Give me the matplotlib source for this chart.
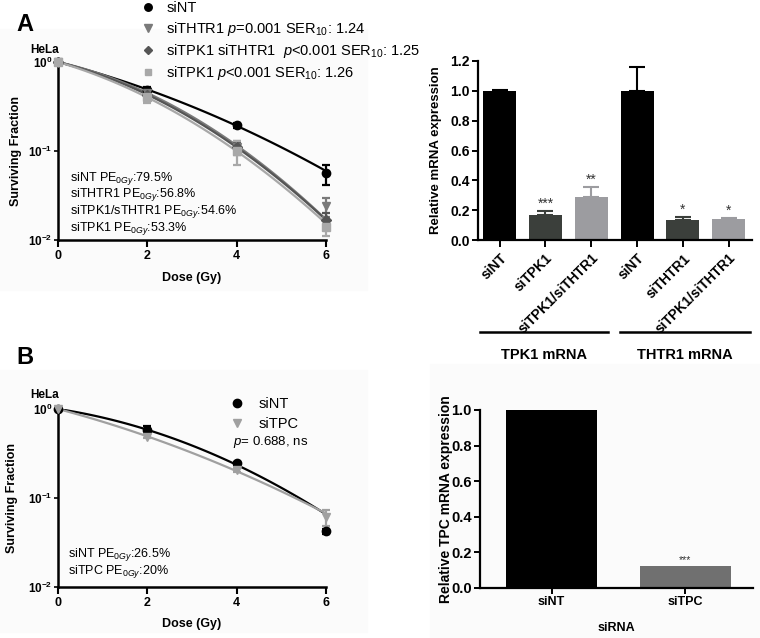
import matplotlib
matplotlib.use("Agg")
import matplotlib.pyplot as plt
import numpy as np
from matplotlib.ticker import NullLocator, FixedLocator

plt.rcParams['font.family'] = ['Liberation Sans', 'DejaVu Sans']
plt.rcParams['mathtext.fontset'] = 'custom'
plt.rcParams['mathtext.rm'] = 'Liberation Sans'
plt.rcParams['mathtext.it'] = 'Liberation Sans:italic'
plt.rcParams['mathtext.bf'] = 'Liberation Sans:bold'

# ---- data: panel A survival ----
dose = [0, 2, 4, 6]
a_siNT = [1.0, 0.49, 0.195, 0.056]
a_siNT_err = [0, 0.04, 0.012, 0.014]
a_siTHTR1 = [1.0, 0.45, 0.11, 0.024]
a_siTHTR1_err = [0, 0.04, 0.02, 0.006]
a_siTPK1_siTHTR1 = [1.0, 0.43, 0.11, 0.017]
a_siTPK1_siTHTR1_err = [0, 0.03, 0.015, 0.003]
a_siTPK1 = [1.0, 0.40, 0.10, 0.014]
a_siTPK1_err = [0, 0.05, 0.03, 0.003]
a_pe = ["siNT PE$_{0Gy}$:79.5%", "siTHTR1 PE$_{0Gy}$:56.8%",
        "siTPK1/sTHTR1 PE$_{0Gy}$:54.6%", "siTPK1 PE$_{0Gy}$:53.3%"]

# ---- data: panel A bars ----
a_bar_labels = ["siNT", "siTPK1", "siTPK1/siTHTR1", "siNT", "siTHTR1", "siTPK1/siTHTR1"]
a_bar_vals = [1.0, 0.165, 0.285, 1.0, 0.135, 0.14]
a_bar_err = [0.005, 0.03, 0.07, 0.16, 0.02, 0.005]
a_bar_stars = ["", "***", "**", "", "*", "*"]
a_groups = ["TPK1 mRNA", "THTR1 mRNA"]

# ---- data: panel B survival ----
b_siNT = [1.0, 0.58, 0.245, 0.042]
b_siNT_err = [0, 0.07, 0.01, 0.003]
b_siTPC = [1.0, 0.49, 0.205, 0.061]
b_siTPC_err = [0, 0.02, 0.01, 0.012]
b_pe = ["siNT PE$_{0Gy}$:26.5%", "siTPC PE$_{0Gy}$:20%"]

# ---- data: panel B bars ----
b_bar_labels = ["siNT", "siTPC"]
b_bar_vals = [1.0, 0.125]
b_bar_stars = ["", "***"]

fig = plt.figure(figsize=(7.6, 6.38), dpi=100)
bg = '#fbfbfb'
fig.patches.append(plt.Rectangle((0, 0.545), 0.483, 0.41, transform=fig.transFigure,
                                 color=bg, zorder=-10))
fig.patches.append(plt.Rectangle((0, 0.01), 0.483, 0.41, transform=fig.transFigure,
                                 color=bg, zorder=-10))
fig.patches.append(plt.Rectangle((0.566, 0.0), 0.434, 0.43, transform=fig.transFigure,
                                 color=bg, zorder=-10))


def style_survival(ax):
    ax.set_yscale('log')
    ax.set_xlim(0, 6)
    ax.set_ylim(1e-2, 1)
    for s in ['top', 'right']:
        ax.spines[s].set_visible(False)
    for s in ['left', 'bottom']:
        ax.spines[s].set_linewidth(1.8)
    ax.set_facecolor('none')
    ax.xaxis.set_major_locator(FixedLocator([0, 2, 4, 6]))
    ax.yaxis.set_major_locator(FixedLocator([1e-2, 1e-1, 1]))
    ax.yaxis.set_minor_locator(NullLocator())
    ax.set_yticklabels([r'$\mathbf{10^{-2}}$', r'$\mathbf{10^{-1}}$', r'$\mathbf{10^{0}}$'])
    ax.tick_params(axis='x', length=5, width=1.5, labelsize=9, pad=2)
    ax.tick_params(axis='y', length=3, width=1.2, labelsize=8.5, pad=1)
    for t in ax.get_xticklabels():
        t.set_fontweight('bold')
    ax.set_xlabel("Dose (Gy)", fontsize=9, fontweight='bold')
    ax.set_ylabel("Surviving Fraction", fontsize=9, fontweight='bold')


def survival(ax, y, err, color, marker, ms, label):
    # linear-quadratic style fit, weighted like a fit on the surviving fraction
    d = np.linspace(0, 6, 120)
    coef = np.polyfit(dose, np.log(y), 2, w=y)
    ax.plot(d, np.exp(np.polyval(coef, d)), color=color, lw=1.6, zorder=2)
    ax.errorbar(dose, y, yerr=err, fmt='none', ecolor=color, elinewidth=1.6,
                capsize=3, capthick=1.6, zorder=3, clip_on=False)
    h, = ax.plot(dose, y, ls='none', marker=marker, ms=ms, color=color,
                 label=label, zorder=4, clip_on=False)
    return h


# ---------- panel A survival ----------
ax1 = fig.add_axes([0.0763, 0.6238, 0.3526, 0.279])
style_survival(ax1)
hA = [
    survival(ax1, a_siNT, a_siNT_err, 'black', 'o', 6, 'siNT'),
    survival(ax1, a_siTHTR1, a_siTHTR1_err, '#7a7a7a', 'v', 6,
             r'siTHTR1 $\it{p}$=0.001 SER$_{10}$: 1.24'),
    survival(ax1, a_siTPK1_siTHTR1, a_siTPK1_siTHTR1_err, '#555555', 'D', 5,
             r'siTPK1 siTHTR1  $\it{p}$<0.001 SER$_{10}$: 1.25'),
    survival(ax1, a_siTPK1, a_siTPK1_err, '#a8a8a8', 's', 5.5,
             r'siTPK1 $\it{p}$<0.001 SER$_{10}$: 1.26'),
]
ax1.xaxis.set_label_coords(0.5, -0.18)
ax1.yaxis.set_label_coords(-0.134, 0.5)
fig.legend(handles=hA, loc='upper left', bbox_to_anchor=(0.188, 0.998),
           bbox_transform=fig.transFigure, frameon=False, fontsize=10.5,
           handlelength=0.7, handletextpad=0.9, labelspacing=0.3,
           borderpad=0, borderaxespad=0, markerscale=0.9)
for i, t in enumerate(a_pe):
    ax1.text(0.045, 0.348 - i * 0.094, t, transform=ax1.transAxes,
             fontsize=9, va='center')
fig.text(0.059, 0.921, "HeLa", fontsize=8.5, fontweight='bold', ha='center', va='center')
fig.text(0.022, 0.962, "A", fontsize=17, fontweight='bold', va='center')

# ---------- panel A bars ----------
ax2 = fig.add_axes([0.629, 0.6238, 0.360, 0.2806])
x = np.arange(len(a_bar_vals))
colors = ['#000000', '#3b3f3b', '#9c9ca0'] * 2
ax2.bar(x, a_bar_vals, width=0.72, color=colors, zorder=2)
for xi, v, e, c, s in zip(x, a_bar_vals, a_bar_err, colors, a_bar_stars):
    ax2.errorbar(xi, v, yerr=[[0], [e]], fmt='none', ecolor=c, elinewidth=1.5,
                 capsize=6, capthick=1.5, zorder=1)
    if s:
        ax2.text(xi, v + e + 0.002, s, ha='center', va='bottom', fontsize=10,
                 color='#333333')
ax2.set_xlim(-0.47, 5.5)
ax2.set_ylim(0, 1.2)
ax2.set_yticks(np.arange(0, 1.21, 0.2))
ax2.set_yticklabels([f"{v:.1f}" for v in np.arange(0, 1.21, 0.2)],
                    fontsize=10, fontweight='bold')
ax2.set_xticks(x)
ax2.set_xticklabels(a_bar_labels, rotation=45, ha='right', rotation_mode='anchor',
                    fontsize=10, fontweight='bold')
for s in ['top', 'right']:
    ax2.spines[s].set_visible(False)
for s in ['left', 'bottom']:
    ax2.spines[s].set_linewidth(1.6)
ax2.tick_params(axis='y', length=4, width=1.4, pad=2)
ax2.tick_params(axis='x', length=5, width=1.4, pad=3)
ax2.set_ylabel("Relative mRNA expression", fontsize=9.5, fontweight='bold')
ax2.yaxis.set_label_coords(-0.131, 0.5)
tr = ax2.get_xaxis_transform()
for (x0, x1), g in zip([(-0.43, 2.36), (2.62, 5.46)], a_groups):
    ax2.plot([x0, x1], [-0.514, -0.514], color='black', lw=1.8, transform=tr,
             clip_on=False)
    ax2.text((x0 + x1) / 2, -0.645, g, transform=tr, ha='center', va='center',
             fontsize=10.5, fontweight='bold')

# ---------- panel B survival ----------
ax3 = fig.add_axes([0.0763, 0.080, 0.3526, 0.279])
style_survival(ax3)
hB = [
    survival(ax3, b_siNT, b_siNT_err, 'black', 'o', 6, 'siNT'),
    survival(ax3, b_siTPC, b_siTPC_err, '#a0a0a0', 'v', 6, 'siTPC'),
]
ax3.xaxis.set_label_coords(0.5, -0.174)
ax3.yaxis.set_label_coords(-0.149, 0.5)
fig.legend(handles=hB, loc='upper left', bbox_to_anchor=(0.302, 0.378),
           bbox_transform=fig.transFigure, frameon=False, fontsize=10.5,
           handlelength=1, handletextpad=1.0, labelspacing=0.4,
           borderpad=0, borderaxespad=0)
fig.text(0.307, 0.307, r"$\it{p}$= 0.688, ns", fontsize=9.5, va='center')
for i, t in enumerate(b_pe):
    ax3.text(0.037, 0.18 - i * 0.092, t, transform=ax3.transAxes,
             fontsize=9, va='center')
fig.text(0.059, 0.381, "HeLa", fontsize=8.5, fontweight='bold', ha='center', va='center')
fig.text(0.022, 0.44, "B", fontsize=17, fontweight='bold', va='center')

# ---------- panel B bars ----------
ax4 = fig.add_axes([0.6316, 0.0784, 0.359, 0.279])
xb = np.arange(len(b_bar_vals))
ax4.bar(xb, b_bar_vals, width=0.68, color=['#000000', '#707070'], zorder=2)
for xi, v, s in zip(xb, b_bar_vals, b_bar_stars):
    if s:
        ax4.text(xi, v + 0.003, s, ha='center', va='bottom', fontsize=7.5,
                 color='#333333')
ax4.set_facecolor('none')
ax4.set_xlim(-0.534, 1.504)
ax4.set_ylim(0, 1.0)
ax4.set_yticks(np.arange(0, 1.01, 0.2))
ax4.set_yticklabels([f"{v:.1f}" for v in np.arange(0, 1.01, 0.2)],
                    fontsize=10.5, fontweight='bold')
ax4.set_xticks(xb)
ax4.set_xticklabels(b_bar_labels, fontsize=9, fontweight='bold')
for s in ['top', 'right']:
    ax4.spines[s].set_visible(False)
for s in ['left', 'bottom']:
    ax4.spines[s].set_linewidth(1.6)
ax4.tick_params(axis='both', length=4, width=1.4, pad=2)
ax4.set_ylabel("Relative TPC mRNA expression", fontsize=10, fontweight='bold')
ax4.yaxis.set_label_coords(-0.099, 0.5)
ax4.set_xlabel("siRNA", fontsize=9, fontweight='bold')
ax4.xaxis.set_label_coords(0.5, -0.19)

fig.savefig("out.png", dpi=100)
